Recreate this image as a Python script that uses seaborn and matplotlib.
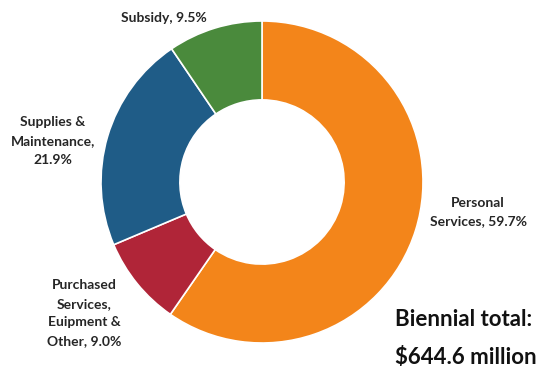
import matplotlib
matplotlib.use("Agg")
import matplotlib.pyplot as plt
import seaborn as sns

# Budget shares by category (percent of biennial total)
categories = ["Personal Services", "Purchased Services, Euipment & Other",
              "Supplies & Maintenance", "Subsidy"]
shares = [59.7, 9.0, 21.9, 9.5]
labels = ["Personal\nServices, 59.7%",
          "Purchased\nServices,\nEuipment &\nOther, 9.0%",
          "Supplies &\nMaintenance,\n21.9%",
          "Subsidy, 9.5%"]
colors = ["#F3851A", "#B02538", "#1F5C87", "#4A8A3C"]
total_lines = ["Biennial total:", "$644.6 million"]

sns.set_theme(style="white")
plt.rcParams["font.family"] = ["Lato", "DejaVu Sans"]

W, H = 536, 368
fig = plt.figure(figsize=(W / 100, H / 100), dpi=100)
fig.patch.set_facecolor("white")

cx, cy, r = 262, 182, 161
ax = fig.add_axes([(cx - r) / W, (H - cy - r) / H, 2 * r / W, 2 * r / H])
ax.pie(shares, colors=colors, startangle=90, counterclock=False, radius=1.0,
       wedgeprops=dict(width=0.49, edgecolor="white", linewidth=1.2))
ax.set_xlim(-1, 1)
ax.set_ylim(-1, 1)
ax.set_aspect("equal")
ax.axis("off")

def put(px, py, s, **kw):
    fig.text(px / W, 1 - py / H, s, **kw)

label_pos = [(478, 212), (84, 313), (53, 141), (164, 18)]
for (px, py), s in zip(label_pos, labels):
    put(px, py, s, ha="center", va="center", fontsize=10, fontweight="bold",
        color="#262626", linespacing=1.65)

put(395, 320, total_lines[0], ha="left", va="center", fontsize=16,
    fontweight="bold", color="#111111")
put(395, 357, total_lines[1], ha="left", va="center", fontsize=16,
    fontweight="bold", color="#111111")

fig.savefig("out.png", dpi=100, facecolor="white")
